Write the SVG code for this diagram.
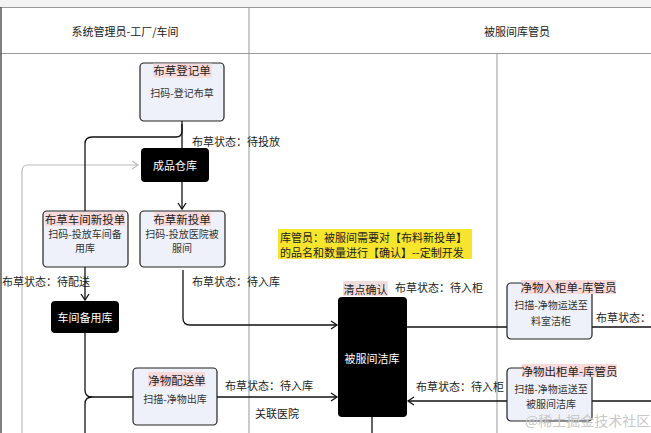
<svg xmlns="http://www.w3.org/2000/svg" width="651" height="433" viewBox="0 0 651 433">
<defs>
<style>
text{font-family:"Noto Sans CJK SC","Noto Sans",sans-serif;fill:#222;dominant-baseline:central}
.t{font-size:11.5px;text-anchor:middle}
.s{font-size:10px;text-anchor:middle;fill:#333}
.l{font-size:11px}
.w{font-size:11px;fill:#fff;text-anchor:middle}
.box{fill:#eef1f9;stroke:#222;stroke-width:1.2}
.blk{fill:#000}
.hl{fill:#f8dada}
.c{fill:none;stroke:#111;stroke-width:1.3}
.g{fill:none;stroke:#999;stroke-width:1}
</style>
<marker id="a" markerUnits="userSpaceOnUse" markerWidth="10" markerHeight="10" refX="7" refY="5" orient="auto"><path d="M1,1 L7,5 L1,9" fill="none" stroke="#111" stroke-width="1.3"/></marker>
<marker id="ag" markerUnits="userSpaceOnUse" markerWidth="10" markerHeight="10" refX="7" refY="5" orient="auto"><path d="M1,1 L7,5 L1,9" fill="none" stroke="#bbb" stroke-width="1.3"/></marker>
</defs>
<rect x="0" y="0" width="651" height="433" fill="#fff"/>
<rect x="0" y="0" width="651" height="7" fill="#f3f3f3"/>
<g id="lanes">
<line x1="0" y1="7.5" x2="651" y2="7.5" class="g"/>
<line x1="0" y1="53.5" x2="651" y2="53.5" class="g"/>
<line x1="1" y1="7" x2="1" y2="433" stroke="#555" stroke-width="1.5"/>
<line x1="249" y1="7" x2="249" y2="433" class="g"/>
<line x1="497" y1="53" x2="497" y2="433" class="g"/>
<text x="125" y="31" class="l" text-anchor="middle">系统管理员-工厂/车间</text>
<text x="517" y="31" class="l" text-anchor="middle">被服间库管员</text>
</g>
<g id="connectors">
<path d="M22,433 L22,171 Q22,165 28,165 L138,165" fill="none" stroke="#bbb" stroke-width="1.2" marker-end="url(#ag)"/>
<path d="M182,121 L182,148" class="c"/>
<path d="M182,124 L182,131 Q182,137 176,137 L92,137 Q85,137 85,144 L85,211" class="c"/>
<path d="M182,182 L182,209" class="c" marker-end="url(#a)"/>
<path d="M85,267 L85,300" class="c" marker-end="url(#a)"/>
<path d="M183,270 L183,318 Q183,325 190,325 L337,325" class="c" marker-end="url(#a)"/>
<path d="M407,327 L651,327" class="c"/>
<path d="M651,401 L408,401" class="c" marker-end="url(#a)"/>
<path d="M85,333 L85,390 Q85,397 92,397 L133,397" class="c"/>
<path d="M92,397 Q85,397 85,404 L85,433" class="c"/>
<path d="M217,397 L337,397" class="c" marker-end="url(#a)"/>
<path d="M372,417 L372,433" class="c"/>
<text x="192" y="141" class="l">布草状态：待投放</text>
<text x="2" y="281" class="l">布草状态：待配送</text>
<text x="192" y="281" class="l">布草状态：待入库</text>
<text x="395" y="287" class="l">布草状态：待入柜</text>
<text x="225" y="385" class="l">布草状态：待入库</text>
<text x="255" y="413" class="l">关联医院</text>
<text x="416" y="386" class="l">布草状态：待入柜</text>
<text x="596" y="317" class="l">布草状态：</text>
</g>
<g id="note">
<rect x="278" y="229" width="194" height="30" fill="#f6e52c"/>
<text x="280" y="237" class="l">库管员：被服间需要对【布料新投单】</text>
<text x="280" y="252" class="l">的品名和数量进行【确认】--定制开发</text>
</g>
<g id="n-register">
<rect x="140" y="63" width="84" height="58" rx="4" class="box"/>
<rect x="153" y="63.6" width="59" height="14" class="hl"/>
<text x="182" y="70" class="t">布草登记单</text>
<text x="182" y="92" class="s">扫码-登记布草</text>
</g>
<g id="n-warehouse">
<rect x="141" y="148" width="68" height="34" rx="4" class="blk"/>
<text x="175" y="165" class="w">成品仓库</text>
</g>
<g id="n-workshop-new">
<rect x="43" y="211" width="85" height="56" rx="4" class="box"/>
<rect x="45" y="212" width="80" height="14" class="hl"/>
<text x="85" y="219" class="t">布草车间新投单</text>
<text x="85" y="233" class="s">扫码-投放车间备</text>
<text x="85" y="247" class="s">用库</text>
</g>
<g id="n-new">
<rect x="140" y="211" width="85" height="56" rx="4" class="box"/>
<rect x="154" y="212" width="57" height="14" class="hl"/>
<text x="182" y="219" class="t">布草新投单</text>
<text x="182" y="233" class="s">扫码-投放医院被</text>
<text x="182" y="247" class="s">服间</text>
</g>
<g id="n-spare">
<rect x="51" y="301" width="68" height="32" rx="4" class="blk"/>
<text x="85" y="317" class="w">车间备用库</text>
</g>
<g id="n-delivery">
<rect x="133" y="368" width="84" height="57" rx="4" class="box"/>
<rect x="148" y="372" width="57" height="15" class="hl"/>
<text x="177" y="380" class="t">净物配送单</text>
<text x="175" y="398" class="s">扫描-净物出库</text>
</g>
<g id="n-clean">
<rect x="338" y="297" width="69" height="120" rx="4" class="blk"/>
<text x="372" y="358" class="w">被服间洁库</text>
<rect x="343" y="281" width="45" height="15" fill="#f0dede"/>
<text x="365.5" y="289" class="t" style="font-size:11px">清点确认</text>
</g>
<g id="n-in-cabinet">
<rect x="507" y="283" width="85" height="56" rx="4" class="box"/>
<rect x="521" y="280" width="95" height="14" class="hl"/>
<text x="568.5" y="287" class="t">净物入柜单-库管员</text>
<text x="551" y="304" class="s">扫描-净物运送至</text>
<text x="551" y="320" class="s">料室洁柜</text>
</g>
<g id="n-out-cabinet">
<rect x="507" y="368" width="85" height="53" rx="4" class="box"/>
<rect x="522" y="364" width="95" height="13" class="hl"/>
<text x="569.5" y="371" class="t">净物出柜单-库管员</text>
<text x="551" y="388" class="s">扫描-净物运送至</text>
<text x="551" y="403" class="s">被服间洁库</text>
</g>
<text x="525" y="420" style="font-size:14px;fill:#c8c8c8;font-family:'Noto Sans CJK SC',serif">@稀土掘金技术社区</text>
</svg>
